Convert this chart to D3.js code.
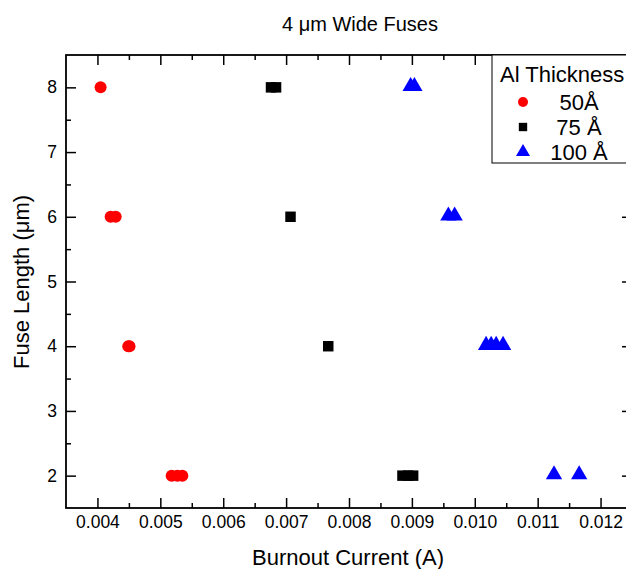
<!DOCTYPE html>
<html><head><meta charset="utf-8">
<script src="https://cdn.jsdelivr.net/npm/d3@7"></script>
<style>body{margin:0;background:#fff}svg{display:block}text{font-family:"Liberation Sans",Arial,sans-serif}</style>
</head><body>
<svg id="c" width="626" height="569"></svg>
<script>
const seriesNames = ["50Å", "75 Å", "100 Å"];
const seriesColors = ["#ff0000", "#000000", "#0000ff"];
const seriesShapes = ["circle", "square", "triangle"];
// burnout current (A) and fuse length (um)
const al50x = [0.00405, 0.00421, 0.00429, 0.00449, 0.00451, 0.00518, 0.00527, 0.00535];
const al50y = [8, 6, 6, 4, 4, 2, 2, 2];
const al75x = [0.00676, 0.00684, 0.00707, 0.00767, 0.00885, 0.00894, 0.00902];
const al75y = [8, 8, 6, 4, 2, 2, 2];
const al100x = [0.00898, 0.00904, 0.00958, 0.00968, 0.01018, 0.01026, 0.01034, 0.01045, 0.01126, 0.01166];
const al100y = [8, 8, 6, 6, 4, 4, 4, 4, 2, 2];
const xTicks = [0.004, 0.005, 0.006, 0.007, 0.008, 0.009, 0.010, 0.011, 0.012];
const yTicks = [2, 3, 4, 5, 6, 7, 8];

(function () {
const svg = d3.select("#c");
const L = 66, R = 632, T = 55, B = 508;
const x = d3.scaleLinear().domain([0.0035, 0.0125]).range([L, R]);
const y = d3.scaleLinear().domain([1.5, 8.5]).range([B, T]);
const xMinor = d3.range(0.0035, 0.01251, 0.0005);
const yMinor = d3.range(1.5, 8.51, 0.5);

const g = svg.append("g");
const fmtX = d3.format(".3f");
g.append("g").attr("transform", `translate(0,${B})`)
  .call(d3.axisBottom(x).tickValues(xTicks).tickFormat(fmtX).tickSizeInner(-10).tickSizeOuter(0).tickPadding(8));
g.append("g").attr("transform", `translate(0,${T})`)
  .call(d3.axisTop(x).tickValues(xTicks).tickFormat("").tickSizeInner(-10).tickSizeOuter(0));
g.append("g").attr("transform", `translate(${L},0)`)
  .call(d3.axisLeft(y).tickValues(yTicks).tickFormat(d3.format("d")).tickSizeInner(-10).tickSizeOuter(0).tickPadding(9));
g.append("g").attr("transform", `translate(${R},0)`)
  .call(d3.axisRight(y).tickValues(yTicks).tickFormat("").tickSizeInner(-10).tickSizeOuter(0));
const minorX = xMinor.filter(v => !xTicks.some(t => Math.abs(t - v) < 1e-9) && v > 0.00351 && v < 0.01249);
const minorY = yMinor.filter(v => !yTicks.includes(v) && v > 1.5 && v < 8.5);
g.append("g").attr("transform", `translate(0,${B})`).call(d3.axisBottom(x).tickValues(minorX).tickFormat("").tickSizeInner(-5).tickSizeOuter(0));
g.append("g").attr("transform", `translate(0,${T})`).call(d3.axisTop(x).tickValues(minorX).tickFormat("").tickSizeInner(-5).tickSizeOuter(0));
g.append("g").attr("transform", `translate(${L},0)`).call(d3.axisLeft(y).tickValues(minorY).tickFormat("").tickSizeInner(-5).tickSizeOuter(0));
g.append("g").attr("transform", `translate(${R},0)`).call(d3.axisRight(y).tickValues(minorY).tickFormat("").tickSizeInner(-5).tickSizeOuter(0));
g.selectAll(".domain").remove();
g.selectAll(".tick line").attr("stroke", "#000").attr("stroke-width", 1.5);
g.selectAll(".tick text").attr("font-size", 17.5).attr("fill", "#000").attr("font-family", '"Liberation Sans",Arial,sans-serif');
g.append("rect").attr("x", L).attr("y", T).attr("width", R - L).attr("height", B - T)
  .attr("fill", "none").attr("stroke", "#000").attr("stroke-width", 1.8);

const symSize = { circle: Math.PI * 36, square: 110, triangle: 115 };
const legSize = { circle: Math.PI * 25, square: 70, triangle: 85 };
const symType = { circle: d3.symbolCircle, square: d3.symbolSquare, triangle: d3.symbolTriangle };
const data = [[al50x, al50y], [al75x, al75y], [al100x, al100y]];
data.forEach(([xs, ys], i) => {
  const sh = seriesShapes[i];
  const pts = xs.map((v, j) => [v, ys[j]]);
  svg.append("g").selectAll("path").data(pts).join("path")
    .attr("d", d3.symbol().type(symType[sh]).size(symSize[sh]))
    .attr("transform", d => `translate(${x(d[0])},${y(d[1]) + (sh === "triangle" ? -1 : 0)})`)
    .attr("fill", seriesColors[i]);
});

const lg = svg.append("g");
lg.append("rect").attr("x", 492).attr("y", T).attr("width", 160).attr("height", 108)
  .attr("fill", "#fff").attr("stroke", "#000").attr("stroke-width", 1);
lg.append("text").attr("x", 500).attr("y", 82).attr("font-size", 22).text("Al Thickness");
seriesNames.forEach((n, i) => {
  const sh = seriesShapes[i];
  const cy = 102 + i * 25;
  lg.append("path").attr("d", d3.symbol().type(symType[sh]).size(legSize[sh])())
    .attr("transform", `translate(523,${cy})`).attr("fill", seriesColors[i]);
  lg.append("text").attr("x", 579).attr("y", cy + 8).attr("text-anchor", "middle").attr("font-size", 22).text(n);
});

svg.append("text").attr("x", 360).attr("y", 31).attr("text-anchor", "middle").attr("font-size", 20).text("4 μm Wide Fuses");
svg.append("text").attr("x", 348).attr("y", 565).attr("text-anchor", "middle").attr("font-size", 22).text("Burnout Current (A)");
svg.append("text").attr("transform", "translate(29,282) rotate(-90)").attr("text-anchor", "middle").attr("font-size", 22).text("Fuse Length (μm)");
})();
</script>
</body></html>
